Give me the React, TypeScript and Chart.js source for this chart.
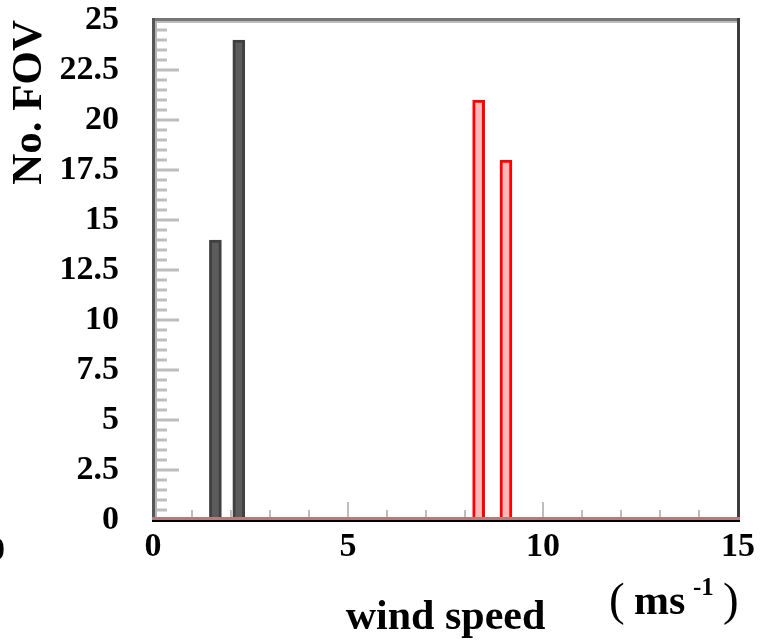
import React, { useEffect, useRef } from 'react';
import { Chart, registerables } from 'chart.js';

Chart.register(...registerables);

// ---- data ----
const blackX = [1.6, 2.2];
const blackCounts = [14, 24];
const redX = [8.35, 9.05];
const redCounts = [21, 18];

const xTickValues = [0, 5, 10, 15];
const xTickLabels = ['0', '5', '10', '15'];
const yTickValues = [0, 2.5, 5, 7.5, 10, 12.5, 15, 17.5, 20, 22.5, 25];
const yTickLabels = ['0', '2.5', '5', '7.5', '10', '12.5', '15', '17.5', '20', '22.5', '25'];
const xMinorTicks = [0, 1, 2, 3, 4, 5, 6, 7, 8, 9, 10, 11, 12, 13, 14, 15];
const yMinorTicks = [
  0, 0.5, 1, 1.5, 2, 2.5, 3, 3.5, 4, 4.5, 5, 5.5, 6, 6.5, 7, 7.5, 8, 8.5, 9, 9.5, 10,
  10.5, 11, 11.5, 12, 12.5, 13, 13.5, 14, 14.5, 15, 15.5, 16, 16.5, 17, 17.5, 18, 18.5,
  19, 19.5, 20, 20.5, 21, 21.5, 22, 22.5, 23, 23.5, 24, 24.5, 25,
];

const SERIF = '"Liberation Serif", "DejaVu Serif", serif';

const framePlugin = {
  id: 'frame',
  beforeDatasetsDraw(chart: any) {
    const { ctx, chartArea } = chart;
    const xs = chart.scales.x;
    const ys = chart.scales.y;
    ctx.save();
    ctx.fillStyle = '#bdbdbd';
    for (const v of yMinorTicks) {
      const y = ys.getPixelForValue(v);
      const major = yTickValues.includes(v);
      const len = major ? 24 : 12;
      ctx.fillRect(chartArea.left, Math.round(y) - 1.5, len + 2, 3);
    }
    for (const v of xMinorTicks) {
      const x = xs.getPixelForValue(v);
      const major = xTickValues.includes(v);
      const len = major ? 18 : 10;
      ctx.fillRect(Math.round(x) - 1, chartArea.bottom - len, 2, len);
    }
    ctx.restore();
  },
  afterDatasetsDraw(chart: any) {
    const { ctx, chartArea } = chart;
    const { left, right, top, bottom } = chartArea;
    ctx.save();
    ctx.fillStyle = '#767676';
    ctx.fillRect(left - 1, top - 2, right - left + 3, 3);
    ctx.fillStyle = '#bcbcbc';
    ctx.fillRect(left + 2, top + 1, right - left - 2, 2);
    ctx.fillStyle = '#565656';
    ctx.fillRect(left - 1, top - 2, 3, bottom - top + 4);
    ctx.fillStyle = '#b4b4b4';
    ctx.fillRect(left + 2, top + 1, 2, bottom - top - 4);
    ctx.fillStyle = '#3c3c3c';
    ctx.fillRect(right - 1, top - 2, 3, bottom - top + 4);
    ctx.fillStyle = '#b37b7b';
    ctx.fillRect(left - 1, bottom - 3, right - left + 3, 3);
    ctx.fillStyle = '#000000';
    ctx.fillRect(left - 1, bottom, right - left + 3, 2);
    ctx.restore();
  },
};

export default function App() {
  const canvasRef = useRef<HTMLCanvasElement | null>(null);

  useEffect(() => {
    const canvas = canvasRef.current;
    if (!canvas) return;
    const chart = new Chart(canvas, {
      type: 'bar',
      data: {
        datasets: [
          {
            label: 'black',
            data: blackX.map((x, i) => ({ x, y: blackCounts[i] })),
            backgroundColor: '#5c5c5c',
            borderColor: '#404040',
            borderWidth: 3,
            barThickness: 12,
            stack: 'one',
          },
          {
            label: 'red',
            data: redX.map((x, i) => ({ x, y: redCounts[i] })),
            backgroundColor: '#ffb8b8',
            borderColor: '#ff0000',
            borderWidth: 3,
            barThickness: 12,
            stack: 'one',
          },
        ],
      },
      options: {
        responsive: false,
        animation: false,
        events: [],
        layout: { padding: { left: 0, top: 20, right: 23, bottom: 0 } },
        plugins: {
          legend: { display: false },
          tooltip: { enabled: false },
          title: { display: false },
        },
        scales: {
          x: {
            type: 'linear',
            min: 0,
            max: 15,
            stacked: true,
            offset: false,
            grid: { display: false, drawTicks: false },
            border: { display: false },
            afterBuildTicks: (scale: any) => {
              scale.ticks = xTickValues.map((v) => ({ value: v }));
            },
            afterFit: (scale: any) => {
              scale.height = 123;
              scale.paddingLeft = 0;
              scale.paddingRight = 0;
            },
            ticks: {
              autoSkip: false,
              maxRotation: 0,
              padding: 10,
              color: '#000',
              font: { family: SERIF, size: 34, weight: 'bold', lineHeight: 1 },
              callback: (value: any) => xTickLabels[xTickValues.indexOf(Number(value))] ?? '',
            },
            title: {
              display: true,
              text: 'wind speed',
              color: '#000',
              padding: { top: 0, bottom: 0 },
              font: { family: SERIF, size: 42, weight: 'bold', lineHeight: 1.2 },
            },
          },
          y: {
            type: 'linear',
            min: 0,
            max: 25,
            stacked: false,
            grid: { display: false, drawTicks: false },
            border: { display: false },
            afterBuildTicks: (scale: any) => {
              scale.ticks = yTickValues.map((v) => ({ value: v }));
            },
            afterFit: (scale: any) => {
              scale.width = 153;
              scale.paddingTop = 0;
              scale.paddingBottom = 0;
            },
            ticks: {
              autoSkip: false,
              padding: 34,
              color: '#000',
              font: { family: SERIF, size: 34, weight: 'bold', lineHeight: 1 },
              callback: (value: any) => yTickLabels[yTickValues.indexOf(Number(value))] ?? '',
            },
            title: {
              display: true,
              text: 'No. FOV',
              align: 'end',
              color: '#000',
              padding: { top: 4, bottom: 4 },
              font: { family: SERIF, size: 43, weight: 'bold', lineHeight: 1.2 },
            },
          },
        },
      },
      plugins: [framePlugin],
    } as any);
    return () => chart.destroy();
  }, []);

  const base: React.CSSProperties = {
    position: 'absolute',
    fontFamily: SERIF,
    color: '#000',
    whiteSpace: 'nowrap',
    margin: 0,
  };

  return (
    <div
      style={{
        position: 'fixed',
        left: 0,
        top: 0,
        width: 761,
        height: 643,
        background: '#fff',
        overflow: 'hidden',
      }}
    >
      <canvas ref={canvasRef} width={761} height={643} style={{ display: 'block' }} />
      <span style={{ ...base, left: -12, top: 532, fontSize: 34, lineHeight: '34px', fontWeight: 'bold' }}>0</span>
      <span style={{ ...base, left: 609, top: 576, fontSize: 47, lineHeight: '47px' }}>(</span>
      <span style={{ ...base, left: 634, top: 579, fontSize: 42, lineHeight: '42px', fontWeight: 'bold' }}>ms</span>
      <span style={{ ...base, left: 693, top: 574, fontSize: 25, lineHeight: '25px', fontWeight: 'bold' }}>-1</span>
      <span style={{ ...base, left: 723, top: 576, fontSize: 47, lineHeight: '47px' }}>)</span>
    </div>
  );
}
